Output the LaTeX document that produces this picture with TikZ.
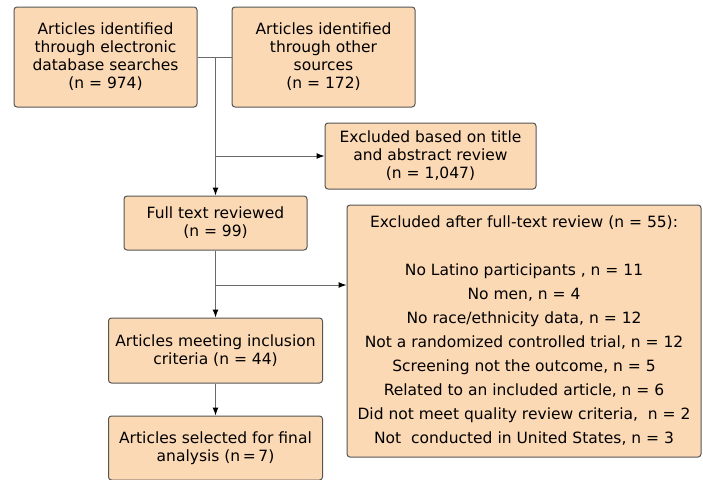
\documentclass[tikz,border=0pt]{standalone}
\usepackage{fontspec}
\setmainfont{DejaVu Sans}
\usetikzlibrary{arrows.meta}

\definecolor{boxfill}{RGB}{252,217,181}
\definecolor{boxline}{RGB}{85,85,85}
\definecolor{flowline}{RGB}{105,105,105}

\tikzset{
  stage/.style={draw=boxline, fill=boxfill, rounded corners=3pt, align=center,
                inner sep=0pt, line width=1pt,
                font=\fontsize{15.5}{18}\selectfont},
  link/.style={draw=flowline, line width=1pt},
  flow/.style={link, -{Latex[length=8pt,width=6pt,black]}}
}

\begin{document}
\begin{tikzpicture}[x=1pt,y=-1pt]

            %\draw [help lines] (0,0) grid (703,479);
            \useasboundingbox (0,0) rectangle (703,479);
            \clip (0,0) rectangle (703,479);

            \path   (105.5,57) node (dbase) [stage, minimum width=183, minimum height=100]
                        {Articles identified\\through electronic\\database searches\\(n = 974)}
                    (323.5,57) node (other) [stage, minimum width=183, minimum height=100]
                        {Articles identified\\through other\\sources\\(n = 172)}
                    (430.5,156) node (title) [stage, minimum width=211, minimum height=66]
                        {Excluded based on title\\and abstract review\\(n = 1,047)}
                    (215.5,223) node (fulltext) [stage, minimum width=183, minimum height=54]
                        {Full text reviewed\\(n = 99)}
                    (524,331) node (fullrev) [stage, minimum width=354, minimum height=252,
                                              font=\fontsize{15.5}{24}\selectfont]
                        {Excluded after full-text review (n = 55):\\ \strut\\
                         No Latino participants , n = 11\\
                         No men, n = 4\\
                         No race/ethnicity data, n = 12\\
                         Not a randomized controlled trial, n = 12\\
                         Screening not the outcome, n = 5\\
                         Related to an included article, n = 6\\
                         Did not meet quality review criteria, \ n = 2\\
                         Not \ conducted in United States, n = 3}
                    (215.5,350.5) node (meeting) [stage, minimum width=214, minimum height=65]
                        {Articles meeting inclusion\\criteria (n = 44)}
                    (215.5,448) node (final) [stage, minimum width=214, minimum height=64]
                        {Articles selected for final\\analysis (n\,=\,7)};

            \coordinate (join) at (215.5,57);
            \coordinate (split1) at (215.5,156);
            \coordinate (split2) at (215.5,285);

            \draw [link] (dbase.east) -- (other.west);
            \draw [flow] (join) -- (fulltext.north);
            \draw [flow] (split1) -- (title.west);
            \draw [link] (fulltext.south) -- (split2);
            \draw [flow] (split2) -- (split2 -| fullrev.west);
            \draw [flow] (split2) -- (meeting.north);
            \draw [flow] (meeting.south) -- (final.north);

\end{tikzpicture}
\end{document}
